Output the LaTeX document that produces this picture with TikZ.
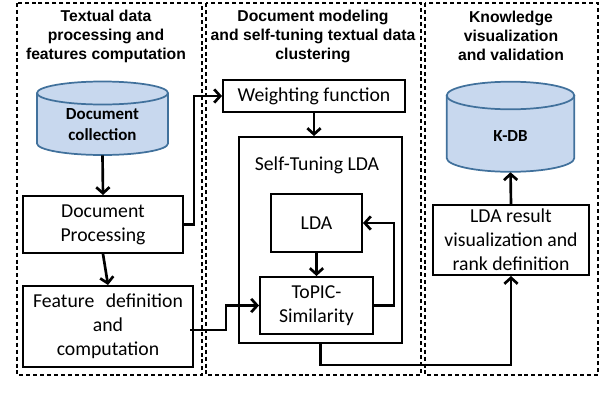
\documentclass[tikz,border=0pt]{standalone}
\usepackage{fontspec}
\setmainfont{Carlito}
\newfontfamily\titlefont{Liberation Sans}
\usetikzlibrary{arrows.meta}
\definecolor{cylfill}{HTML}{C8D8EE}
\definecolor{cylborder}{HTML}{41719C}
\tikzset{
  panel/.style={draw, line width=0.9pt, dash pattern=on 3pt off 2.2pt},
  box/.style={draw, line width=1.5pt, inner sep=0pt, align=center, font=\fontsize{14.8}{18}\selectfont},
  ttl/.style={align=center, font=\titlefont\bfseries\fontsize{11.8}{14.25}\selectfont},
  cyltext/.style={align=center, inner sep=0pt, font=\bfseries\fontsize{12.7}{15.75}\selectfont},
  cyl/.style={fill=cylfill, draw=cylborder, line width=1.3pt},
  conn/.style={line width=2pt, -{Straight Barb[length=4.5pt,width=10pt]}},
}
\begin{document}
\begin{tikzpicture}[x=0.75pt,y=-0.75pt]
\useasboundingbox (0,0) rectangle (607,404);
% panels
\draw[panel] (17,3) rectangle (202,375);
\draw[panel] (206,3) rectangle (421,375);
\draw[panel] (425,3) rectangle (598,375);
% titles
\node[ttl] (t1) at (106,36) {Textual data\\processing and\\features computation};
\node[ttl] (t2) at (313,36) {Document modeling\\and self-tuning textual data\\clustering};
\node[ttl] (t3) at (511,36) {Knowledge\\visualization\\and validation};
% cylinder 1
\filldraw[cyl] (37,93) -- (37,143.5) arc[start angle=180,end angle=0,x radius=65.5,y radius=11.5] -- (168,93);
\filldraw[cyl] (102.5,93) ellipse[x radius=65.5,y radius=11.5];
\node[cyltext, minimum height=45pt] (dc) at (102.5,125) {Document\\collection};
% cylinder 2
\filldraw[cyl] (446.7,95.5) -- (446.7,158) arc[start angle=180,end angle=0,x radius=63.8,y radius=13.8] -- (574.3,95.5);
\filldraw[cyl] (510.5,95.5) ellipse[x radius=63.8,y radius=13.8];
\node[cyltext, minimum height=54pt] (kdb) at (510.5,136) {K-DB};
% boxes
\node[box, minimum width=120pt, minimum height=42.75pt] (dp) at (103,224.5) {Document\\Processing};
\node[box, minimum width=127.5pt, minimum height=60.75pt] (fd) at (108,326.5) {Feature\hspace{0.35em} definition\\and\\computation};
\node[box, minimum width=136.5pt, minimum height=24pt] (wf) at (314,96) {Weighting function};
\node[box, minimum width=122.25pt, minimum height=154.5pt] (st) at (320.5,240) {};
\node[font=\fontsize{14.8}{18}\selectfont, inner sep=0pt] (stl) at (317,165) {Self-Tuning LDA};
\node[box, minimum width=68.25pt, minimum height=43.5pt] (lda) at (316.5,223) {LDA};
\node[box, minimum width=84.75pt, minimum height=42.75pt] (tp) at (316.5,305.5) {ToPIC-\\Similarity};
\node[box, minimum width=117pt, minimum height=52.5pt] (lr) at (511,240) {LDA result\\visualization and\\rank definition};
% connectors
\draw[conn] (dc.south) -- (dp.north);
\draw[conn] (dp.south) -- (fd.north);
\draw[conn] (dp.east) -- ++(10,0) |- (wf.west);
\draw[conn] ([xshift=-3pt,yshift=-2.6pt]fd.east) -- ++(36,0) |- (tp.west);
\draw[conn] (wf.south) -- (wf.south |- st.north);
\draw[conn] (lda.south) -- (tp.north);
\draw[conn] (tp.east) -- ++(20,0) |- (lda.east);
\draw[conn] (st.south) -- ++(0,21) -| (lr.south);
\draw[conn] (lr.north) -- (kdb.south);
\end{tikzpicture}
\end{document}
